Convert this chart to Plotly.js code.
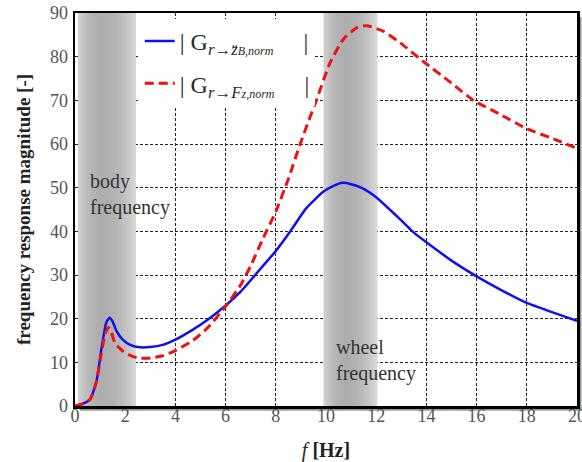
<!DOCTYPE html>
<html>
<head>
<meta charset="utf-8">
<script src="https://cdn.plot.ly/plotly-3.0.1.min.js"></script>
<style>html,body{margin:0;padding:0;background:#fff;}#chart{width:582px;height:462px;}</style>
</head>
<body>
<div id="chart"></div>
<script>
// Frequency axis [Hz]
var freqBlue = [0, 0.3, 0.6, 0.85, 1.05, 1.25, 1.38, 1.5, 1.65, 1.9, 2.2, 2.5, 3.0, 3.5, 4.0, 4.7, 5.3, 6.0, 6.6, 7.0, 7.4, 8.0, 8.6, 9.2, 9.9, 10.3, 10.65, 11.0, 11.4, 12.0, 12.5, 13.0, 13.5, 14.0, 15.0, 16.0, 17.0, 18.0, 19.0, 20.0];
var magBlue  = [0, 0.5, 1.5, 5.5, 13.0, 19.2, 20.2, 19.3, 17.2, 15.2, 14.0, 13.5, 13.5, 14.0, 15.2, 17.5, 19.8, 23.0, 26.2, 28.8, 31.5, 35.5, 40.2, 45.2, 49.1, 50.4, 51.1, 50.8, 50.0, 47.8, 45.2, 42.5, 39.7, 37.5, 33.3, 29.7, 26.5, 23.6, 21.5, 19.5];

var freqRed = [0, 0.3, 0.6, 0.85, 1.05, 1.2, 1.33, 1.45, 1.6, 1.9, 2.2, 2.5, 3.0, 3.5, 4.0, 4.7, 5.3, 6.0, 6.6, 7.0, 7.5, 8.0, 8.5, 8.96, 9.3, 9.63, 10.16, 10.69, 11.22, 11.62, 12.3, 12.95, 13.94, 14.9, 15.9, 16.9, 18.0, 19.05, 20.0];
var magRed  = [0, 0.5, 1.5, 5.5, 12.0, 16.5, 18.0, 16.8, 14.3, 12.6, 11.6, 11.0, 11.0, 11.5, 12.7, 15.0, 18.0, 22.8, 27.7, 32.1, 38.5, 44.5, 52.0, 59.8, 65.2, 70.2, 78.6, 84.0, 86.6, 87.1, 85.8, 83.2, 78.6, 74.4, 69.9, 66.9, 63.5, 61.2, 59.0];

var seriesNames = [
  '| G<sub><i>r</i>→<i>z̈</i><span style="font-size:12px"><i>B,norm</i></span></sub><span style="color:#2a2a2a">     |</span>',
  '| G<sub><i>r</i>→<i>F</i><span style="font-size:12px"><i>z,norm</i></span></sub><span style="color:#2a2a2a">     |</span>'
];

// Shaded frequency bands [Hz]
var bodyBand = [0.12, 2.45];
var wheelBand = [9.9, 12.05];
var bandLabels = ['body<br>frequency', 'wheel<br>frequency'];
var bandLabelPos = [[0.5, 48.5], [10.3, 10.5]];

var xTicks = [0, 2, 4, 6, 8, 10, 12, 14, 16, 18, 20];
var yTicks = [0, 10, 20, 30, 40, 50, 60, 70, 80, 90];

var serif = '"Liberation Serif", "Times New Roman", serif';

// gray shading profile across a band (style only)
function bandTrace(range) {
  var n = 40, edges = [], row = [];
  for (var i = 0; i <= n; i++) edges.push(range[0] + (range[1] - range[0]) * i / n);
  for (var j = 0; j < n; j++) {
    var t = (j + 0.5) / n, v;
    if (t < 0.4) v = 174 + 36 * Math.pow((0.4 - t) / 0.4, 2);
    else v = 174 + 48 * Math.pow((t - 0.4) / 0.6, 2);
    row.push(v);
  }
  return {type: 'heatmap', x: edges, y: [0, 90], z: [row, row], zmin: 0, zmax: 255,
    colorscale: [[0, 'rgb(0,0,0)'], [1, 'rgb(255,255,255)']], showscale: false,
    zsmooth: 'best', hoverinfo: 'skip', showlegend: false};
}

var shapes = [];
// drop shadow of the frame
shapes.push({type: 'rect', layer: 'below', xref: 'paper', yref: 'paper',
  x0: 1.002, x1: 1.009, y0: -0.012, y1: 0.99, fillcolor: '#9a9a9a', line: {width: 0}});
shapes.push({type: 'rect', layer: 'below', xref: 'paper', yref: 'paper',
  x0: 0.01, x1: 1.009, y0: -0.012, y1: -0.003, fillcolor: '#9a9a9a', line: {width: 0}});

var traces = [
  bandTrace(bodyBand),
  bandTrace(wheelBand),
  {x: freqBlue, y: magBlue, type: 'scatter', mode: 'lines', name: seriesNames[0],
   legendgroup: 'a', line: {color: '#1010ee', width: 2.5, shape: 'spline', smoothing: 0.5}},
  {x: freqRed, y: magRed, type: 'scatter', mode: 'lines', name: seriesNames[1],
   legendgroup: 'b', line: {color: '#ee1111', width: 3, dash: '9px,5px', shape: 'spline', smoothing: 0.5}}
];

var annotations = bandLabels.map(function (t, i) {
  return {x: bandLabelPos[i][0], y: bandLabelPos[i][1], xref: 'x', yref: 'y', text: t,
    showarrow: false, xanchor: 'left', yanchor: 'middle', align: 'left',
    font: {family: serif, size: 20, color: '#333'}};
});

var layout = {
  width: 582, height: 462,
  margin: {l: 75, r: 5, t: 13, b: 56},
  paper_bgcolor: '#fff', plot_bgcolor: '#fff',
  showlegend: true,
  legend: {x: 0.129, y: 0.985, xanchor: 'left', yanchor: 'top', bgcolor: '#fff',
    borderwidth: 0, tracegroupgap: 8, traceorder: 'grouped',
    font: {family: serif, size: 24, color: '#2a2a2a'}},
  xaxis: {range: [0, 20], tickvals: xTicks, ticktext: xTicks.map(String),
    showline: true, linecolor: '#000', linewidth: 2.5, mirror: true,
    showgrid: true, gridcolor: '#222', gridwidth: 1, griddash: '3px,2px',
    zeroline: false, ticks: '', ticklen: 0, ticklabelstandoff: -8, ticklabeloverflow: 'allow',
    tickfont: {family: serif, size: 18, color: '#555'},
    title: {text: '<i>f</i> <b>[Hz]</b>', font: {family: serif, size: 20, color: '#222'}, standoff: 18},
    automargin: false, fixedrange: true},
  yaxis: {range: [0, 90], tickvals: yTicks, ticktext: yTicks.map(String),
    showline: true, linecolor: '#000', linewidth: 2.5, mirror: true,
    showgrid: true, gridcolor: '#222', gridwidth: 1, griddash: '3px,2px',
    zeroline: false, ticks: '', ticklen: 0, ticklabelstandoff: 1,
    tickfont: {family: serif, size: 18, color: '#555'},
    title: {text: '<b>frequency response magnitude [-]</b>', font: {family: serif, size: 19, color: '#222'}, standoff: 15},
    automargin: false, fixedrange: true},
  shapes: shapes,
  annotations: annotations
};

Plotly.newPlot('chart', traces, layout, {displayModeBar: false, staticPlot: true});
</script>
</body>
</html>
